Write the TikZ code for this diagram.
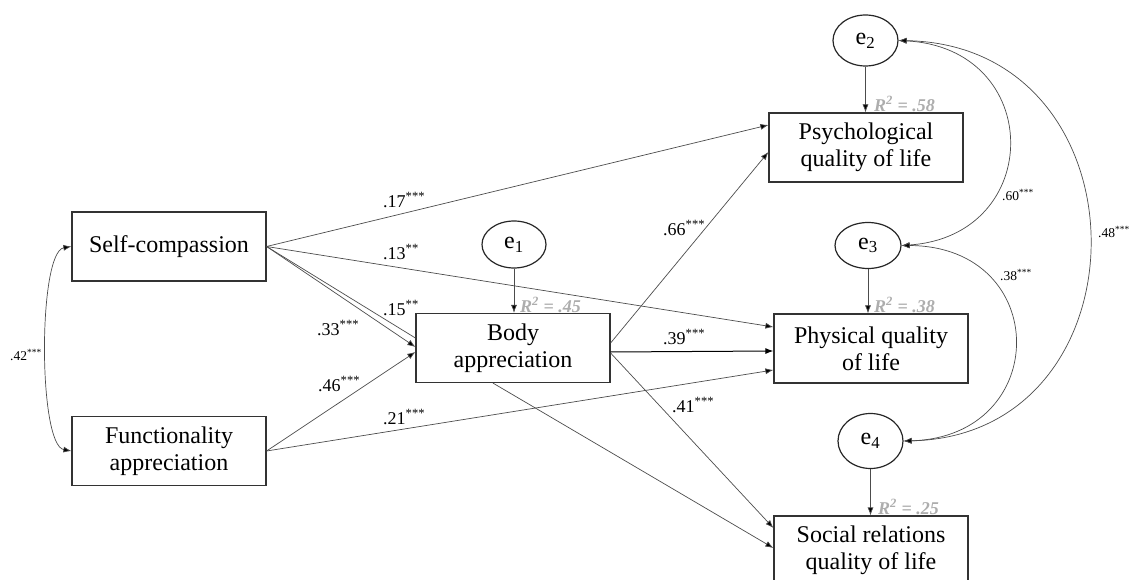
\documentclass[tikz,border=0pt]{standalone}
\usepackage{fontspec}
\setmainfont{Liberation Serif}
\usetikzlibrary{arrows.meta,shapes.geometric}

\tikzset{
  var/.style={draw=black!80, line width=1.2bp, rectangle, minimum width=194bp,
    minimum height=69bp, inner sep=0pt, align=center,
    font=\fontsize{24bp}{27bp}\selectfont},
  err/.style={draw=black!85, line width=1.2bp, ellipse, inner sep=0pt,
    font=\fontsize{24bp}{27bp}\selectfont},
  path/.style={draw=black!70, line width=0.7bp, -{Latex[length=8bp,width=6bp,fill=black]}},
  plain/.style={draw=black!70, line width=0.7bp},
  cov/.style={draw=black!70, line width=0.7bp,
    {Latex[length=8bp,width=6bp,fill=black]}-{Latex[length=8bp,width=6bp,fill=black]}},
  coef/.style={anchor=west, inner sep=0pt, font=\fontsize{18bp}{20bp}\selectfont},
  small/.style={anchor=west, inner sep=0pt, font=\fontsize{13.5bp}{15bp}\selectfont},
  rsq/.style={anchor=west, inner sep=0pt, text=black!32,
    font=\fontsize{18bp}{20bp}\selectfont\bfseries\itshape},
}

\begin{document}
\begin{tikzpicture}[x=1bp,y=-1bp]
\useasboundingbox (0,0) rectangle (1133,580);

% observed variables
\node[var] (self)   at (169,246.5) {Self-compassion};
\node[var] (func)   at (169,451)   {Functionality\\appreciation};
\node[var] (body)   at (513,348)   {Body\\appreciation};
\node[var] (psych)  at (866,147.5) {Psychological\\quality of life};
\node[var] (phys)   at (871,348.5) {Physical quality\\of life};
\node[var] (social) at (871,550.5) {Social relations\\quality of life};

% residuals
\node[err, minimum width=64bp, minimum height=47bp] (e1) at (514,244.5) {e\textsubscript{1}};
\node[err, minimum width=65bp, minimum height=51bp] (e2) at (865.5,40.5) {e\textsubscript{2}};
\node[err, minimum width=66bp, minimum height=46bp] (e3) at (868,245.5) {e\textsubscript{3}};
\node[err, minimum width=65bp, minimum height=55bp] (e4) at (870.5,441) {e\textsubscript{4}};

% residual paths
\draw[path] (e1.south) -- (e1.south |- body.north);
\draw[path] (e2.south) -- (e2.south |- psych.north);
\draw[path] (e3.south) -- (e3.south |- phys.north);
\draw[path] (e4.south) -- (e4.south |- social.north);

% structural paths
\draw[path]  (self.east) -- ([yshift=22.5bp]psych.west);
\draw[path]  (self.east) -- ([yshift=21.5bp]phys.west);
\draw[plain] (self.east) -- ([yshift=10bp]body.west);
\draw[path]  (self.east) -- ([yshift=1bp]body.west);
\draw[path]  (func.east) -- ([yshift=-4bp]body.west);
\draw[path]  (func.east) -- ([yshift=-21.5bp]phys.west);
\draw[path]  ([yshift=5bp]body.east) -- ([yshift=-4.5bp]psych.west);
\draw[path, draw=black, line width=1bp] ([yshift=-4bp]body.east) -- ([yshift=-2.5bp]phys.west);
\draw[path]  ([yshift=-5bp]body.east) -- ([yshift=22.5bp]social.west);
\draw[path]  ([xshift=-20bp]body.south) -- ([yshift=2.5bp]social.west);

% covariances
\draw[cov] (self.west) .. controls (38,252) and (38,445) .. (func.west);
\draw[cov] (e2.east) .. controls (1045,48) and (1045,236) .. (e3.east);
\draw[cov] (e2.east) .. controls (1152,45) and (1152,436) .. (e4.east);
\draw[cov] (e3.east) .. controls (1052,246) and (1052,437) .. (e4.east);

% coefficients
\node[coef] (c17) at (383,200) {.17\textsuperscript{***}};
\node[coef] (c13) at (383,252) {.13\textsuperscript{**}};
\node[coef] (c15) at (383,308) {.15\textsuperscript{**}};
\node[coef] (c33) at (317,328) {.33\textsuperscript{***}};
\node[coef] (c46) at (318,384) {.46\textsuperscript{***}};
\node[coef] (c21) at (383,417) {.21\textsuperscript{***}};
\node[coef] (c66) at (663,228) {.66\textsuperscript{***}};
\node[coef] (c39) at (663,337) {.39\textsuperscript{***}};
\node[coef] (c41) at (672,405) {.41\textsuperscript{***}};

\node[small] (c42) at (10,355)   {.42\textsuperscript{***}};
\node[small] (c60) at (1002,195) {.60\textsuperscript{***}};
\node[small] (c48) at (1098,232) {.48\textsuperscript{***}};
\node[small] (c38) at (1000,275) {.38\textsuperscript{***}};

% explained variance
\node[rsq] (r1) at (520,305) {R\textsuperscript{2} = .45};
\node[rsq] (r2) at (874,104) {R\textsuperscript{2} = .58};
\node[rsq] (r3) at (874,305) {R\textsuperscript{2} = .38};
\node[rsq] (r4) at (878,507) {R\textsuperscript{2} = .25};
\end{tikzpicture}
\end{document}
